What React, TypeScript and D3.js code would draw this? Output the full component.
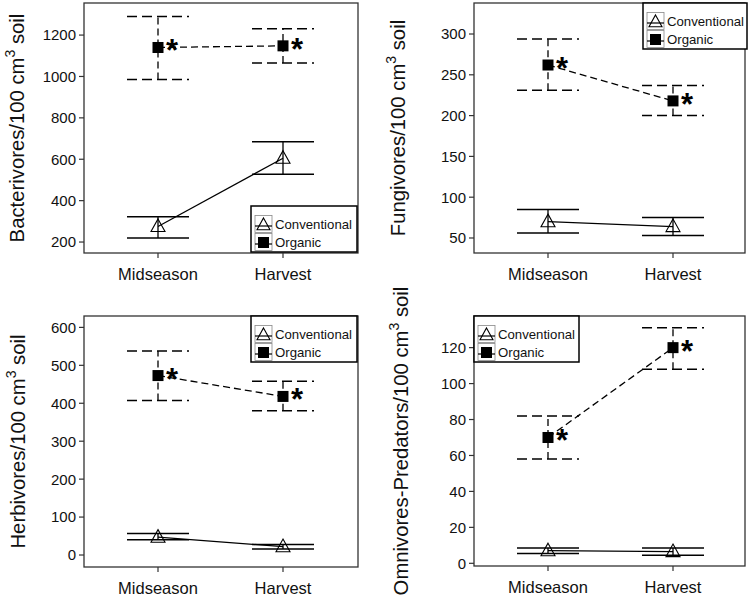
import React from "react";
import * as d3 from "d3";

const categories = ["Midseason", "Harvest"];
const seriesNames = ["Conventional", "Organic"];

// Bacterivores
const bactConvMean = [275, 605];
const bactConvLow = [220, 527];
const bactConvHigh = [322, 685];
const bactOrgMean = [1140, 1148];
const bactOrgLow = [985, 1065];
const bactOrgHigh = [1290, 1230];
const bactTicks = [200, 400, 600, 800, 1000, 1200];

// Fungivores
const fungConvMean = [70, 64];
const fungConvLow = [56, 53];
const fungConvHigh = [85, 75];
const fungOrgMean = [262, 218];
const fungOrgLow = [231, 200];
const fungOrgHigh = [294, 237];
const fungTicks = [50, 100, 150, 200, 250, 300];

// Herbivores
const herbConvMean = [47, 22];
const herbConvLow = [40, 16];
const herbConvHigh = [57, 28];
const herbOrgMean = [473, 418];
const herbOrgLow = [407, 380];
const herbOrgHigh = [538, 458];
const herbTicks = [0, 100, 200, 300, 400, 500, 600];

// Omnivores-Predators
const omniConvMean = [7, 6.5];
const omniConvLow = [5.5, 4.5];
const omniConvHigh = [8.5, 8.5];
const omniOrgMean = [70, 120];
const omniOrgLow = [58, 108];
const omniOrgHigh = [82, 131];
const omniTicks = [0, 20, 40, 60, 80, 100, 120];

const FONT = "'Liberation Sans', Arial, Helvetica, sans-serif";

type Panel = {
  left: number; right: number; top: number; bottom: number;
  domain: [number, number];
  ticks: number[];
  label: string;
  labelX: number;
  legendX: number; legendY: number; legendW: number;
  conv: { mean: number[]; low: number[]; high: number[] };
  org: { mean: number[]; low: number[]; high: number[] };
};

const panels: Panel[] = [
  {
    left: 84, right: 358, top: 3, bottom: 253, domain: [147, 1355], ticks: bactTicks,
    label: "Bacterivores", labelX: 24, legendX: 251, legendY: 206, legendW: 106,
    conv: { mean: bactConvMean, low: bactConvLow, high: bactConvHigh },
    org: { mean: bactOrgMean, low: bactOrgLow, high: bactOrgHigh },
  },
  {
    left: 474, right: 745, top: 3, bottom: 253, domain: [31.6, 338], ticks: fungTicks,
    label: "Fungivores", labelX: 405, legendX: 643, legendY: 3, legendW: 104,
    conv: { mean: fungConvMean, low: fungConvLow, high: fungConvHigh },
    org: { mean: fungOrgMean, low: fungOrgLow, high: fungOrgHigh },
  },
  {
    left: 84, right: 358, top: 316, bottom: 567, domain: [-31.6, 630], ticks: herbTicks,
    label: "Herbivores", labelX: 25, legendX: 251, legendY: 316, legendW: 106,
    conv: { mean: herbConvMean, low: herbConvLow, high: herbConvHigh },
    org: { mean: herbOrgMean, low: herbOrgLow, high: herbOrgHigh },
  },
  {
    left: 474, right: 745, top: 316, bottom: 566, domain: [-1.5, 137.6], ticks: omniTicks,
    label: "Omnivores-Predators", labelX: 408, legendX: 474, legendY: 316, legendW: 105,
    conv: { mean: omniConvMean, low: omniConvLow, high: omniConvHigh },
    org: { mean: omniOrgMean, low: omniOrgLow, high: omniOrgHigh },
  },
];

function triPath(cx: number, cy: number, w: number) {
  const h = w * 0.9;
  return `M${cx},${cy - h * 0.6}L${cx + w / 2},${cy + h * 0.4}L${cx - w / 2},${cy + h * 0.4}Z`;
}

function PanelView({ p }: { p: Panel }) {
  const x = d3.scalePoint<string>().domain(categories).range([p.left + 74, p.left + 199]);
  const y = d3.scaleLinear().domain(p.domain).range([p.bottom, p.top]);
  const capHalf = 31;
  const line = d3.line<number>().x((_, i) => x(categories[i]) as number).y((v) => y(v));
  const dash = "7,4";
  const cy = (p.top + p.bottom) / 2;

  return (
    <g>
      <rect x={p.left} y={p.top} width={p.right - p.left} height={p.bottom - p.top}
        fill="none" stroke="#333" strokeWidth={1.3} />
      {p.ticks.map((t) => (
        <g key={t}>
          <line x1={p.left - 5} x2={p.left} y1={y(t)} y2={y(t)} stroke="#333" strokeWidth={1.2} />
          <text x={p.left - 8} y={y(t)} dy="0.36em" textAnchor="end" fontSize={15} fontFamily={FONT} fill="#111">{t}</text>
        </g>
      ))}
      {categories.map((c) => (
        <g key={c}>
          <line x1={x(c)} x2={x(c)} y1={p.bottom} y2={p.bottom + 5} stroke="#333" strokeWidth={1.2} />
          <text x={x(c)} y={p.bottom + 27} textAnchor="middle" fontSize={16.5} fontFamily={FONT} fill="#111">{c}</text>
        </g>
      ))}
      <text transform={`translate(${p.labelX},${cy}) rotate(-90)`} textAnchor="middle" fontSize={20.3} fontFamily={FONT} fill="#111">
        {p.label}/100 cm<tspan dy={-9} fontSize={14}>3</tspan><tspan dy={9}> soil</tspan>
      </text>

      <path d={line(p.conv.mean) as string} fill="none" stroke="#000" strokeWidth={1.3} />
      <path d={line(p.org.mean) as string} fill="none" stroke="#000" strokeWidth={1.3} strokeDasharray={dash} />

      {categories.map((c, i) => {
        const cx = x(c) as number;
        return (
          <g key={c}>
            <line x1={cx} x2={cx} y1={y(p.conv.low[i])} y2={y(p.conv.high[i])} stroke="#000" strokeWidth={1.3} />
            <line x1={cx - capHalf} x2={cx + capHalf} y1={y(p.conv.low[i])} y2={y(p.conv.low[i])} stroke="#000" strokeWidth={1.5} />
            <line x1={cx - capHalf} x2={cx + capHalf} y1={y(p.conv.high[i])} y2={y(p.conv.high[i])} stroke="#000" strokeWidth={1.5} />
            <line x1={cx} x2={cx} y1={y(p.org.low[i])} y2={y(p.org.high[i])} stroke="#000" strokeWidth={1.3} strokeDasharray={dash} />
            <line x1={cx - capHalf} x2={cx + capHalf} y1={y(p.org.low[i])} y2={y(p.org.low[i])} stroke="#000" strokeWidth={1.5} strokeDasharray="10,5" />
            <line x1={cx - capHalf} x2={cx + capHalf} y1={y(p.org.high[i])} y2={y(p.org.high[i])} stroke="#000" strokeWidth={1.5} strokeDasharray="10,5" />
          </g>
        );
      })}

      {categories.map((c, i) => {
        const cx = x(c) as number;
        const ty = y(p.conv.mean[i]);
        const sy = y(p.org.mean[i]);
        return (
          <g key={c}>
            <path d={triPath(cx, ty, 14)} fill="none" stroke="#000" strokeWidth={1.1} />
            <rect x={cx - 5.5} y={sy - 5.5} width={11} height={11} fill="#000" />
            <text x={cx + 8} y={sy + 14} fontSize={31} fontWeight="bold" fontFamily={FONT} fill="#000">*</text>
          </g>
        );
      })}

      <g transform={`translate(${p.legendX},${p.legendY})`}>
        <rect x={0} y={0} width={p.legendW} height={46} fill="#fff" stroke="#000" strokeWidth={1.5} />
        {seriesNames.map((s, i) => {
          const ry = 18 + i * 18;
          return (
            <g key={s}>
              <rect x={4} y={ry - 8.5} width={17} height={17} fill="none" stroke="#888" strokeWidth={0.8} />
              <line x1={4} x2={21} y1={ry + 2} y2={ry + 2} stroke="#000" strokeWidth={1.2} />
              {i === 0 ? (
                <path d={triPath(12.5, ry + 1, 13)} fill="none" stroke="#000" strokeWidth={1.1} />
              ) : (
                <rect x={7} y={ry - 5} width={11} height={11} fill="#000" />
              )}
              <text x={24} y={ry} dy="0.35em" fontSize={13.2} fontFamily={FONT} fill="#111">{s}</text>
            </g>
          );
        })}
      </g>
    </g>
  );
}

export default function App() {
  return (
    <svg width={750} height={601} style={{ position: "absolute", left: 0, top: 0, background: "#fff" }}>
      <rect width={750} height={601} fill="#fff" />
      {panels.map((p, i) => <PanelView key={i} p={p} />)}
    </svg>
  );
}
